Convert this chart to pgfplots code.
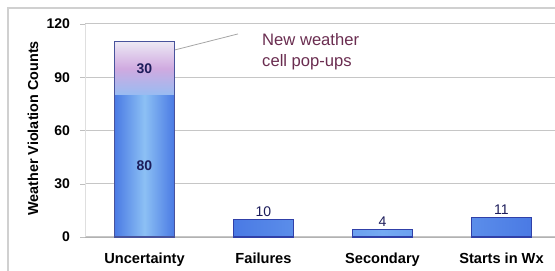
\documentclass[border=0pt]{standalone}
\usepackage{pgfplots}
\pgfplotsset{compat=1.18}
\usepackage{fontspec}
\setmainfont{Liberation Sans}
\definecolor{framegray}{HTML}{D0D0D0}
\definecolor{bardark}{HTML}{3040A8}
\definecolor{edgeblue}{HTML}{4A7AE4}
\definecolor{midblue}{HTML}{74AAF2}
\definecolor{lightblue}{HTML}{8CC0F4}
\definecolor{toplav}{HTML}{ECE8F4}
\definecolor{pinklav}{HTML}{D0AAE0}
\definecolor{blulav}{HTML}{98BCF2}
\definecolor{labelnavy}{HTML}{1C1C5A}
\definecolor{annot}{HTML}{6A2D50}
\begin{document}
\begin{tikzpicture}[x=1pt,y=1pt]
\useasboundingbox (0,0) rectangle (277.5,135.5);
\draw[color=framegray, line width=0.9pt] (4,-10) rectangle (290,131.5);
\begin{axis}[
  at={(42.5pt,17pt)}, anchor=south west,
  scale only axis, width=235pt, height=106.5pt,
  xmin=-0.5, xmax=3.45, ymin=0, ymax=120,
  axis lines*=left,
  x axis line style={draw=gray!60},
  y axis line style={draw=gray!25},
  ytick={0,30,60,90,120},
  xtick={0,1,2,3},
  xticklabels={Uncertainty,Failures,Secondary,Starts in Wx},
  extra x ticks={-0.5,0.5,1.5,2.5},
  extra x tick labels={},
  extra x tick style={major tick length=2.5pt, tick style={draw=gray!50}},
  major x tick style={draw=none},
  ytick style={draw=gray!50},
  tick align=outside, major tick length=2.5pt,
  ymajorgrids, grid style={draw=gray!45, line width=0.5pt},
  /pgf/number format/assume math mode=true,
  yticklabel style={font=\bfseries\fontsize{7}{8}\selectfont, xshift=-1.5pt},
  xticklabel style={font=\bfseries\fontsize{7.3}{9}\selectfont, yshift=-2pt},
  ylabel={Weather Violation Counts},
  every axis y label/.style={at={(axis description cs:-0.1106,0.51)}, rotate=90, anchor=center, font=\bfseries\fontsize{7.2}{9}\selectfont},
  clip=false,
]
% Uncertainty: bottom segment 80, top segment 30 (total 110)
\addplot[ybar, bar width=30pt, bar shift=0pt, draw=none, left color=edgeblue, right color=edgeblue, middle color=lightblue] coordinates {(0,80)};
\addplot[draw=none, mark=none, top color=toplav, bottom color=blulav, middle color=pinklav]
  coordinates {(-0.2521,80) (0.2521,80) (0.2521,110) (-0.2521,110)} -- cycle;
\addplot[ybar, bar width=30pt, bar shift=0pt, draw=bardark!70!gray, line width=0.6pt, fill=none] coordinates {(0,110)};
% other bars
\addplot[ybar, bar width=30pt, bar shift=0pt, draw=bardark, line width=0.6pt,
  left color=edgeblue, right color=edgeblue, middle color=midblue,
  nodes near coords, nodes near coords style={font=\fontsize{7}{8}\selectfont, text=labelnavy, inner sep=1.2pt}]
  coordinates {(1,10) (2,4) (3,11)};
% segment labels inside the Uncertainty bar
\addplot[draw=none, mark=none, nodes near coords, point meta=explicit symbolic,
  nodes near coords style={anchor=center, font=\bfseries\fontsize{7}{8}\selectfont, text=labelnavy}]
  coordinates {(0,40) [80] (0,95) [30]};
% annotation
\draw[gray!70, line width=0.4pt] (axis cs:0.256,105.4) -- (axis cs:0.786,114.4);
\node[anchor=west, align=left, text=annot, font=\fontsize{8.3}{10.5}\selectfont] at (axis cs:0.93,104.2) {New weather\\cell pop-ups};
\end{axis}
\end{tikzpicture}
\end{document}
